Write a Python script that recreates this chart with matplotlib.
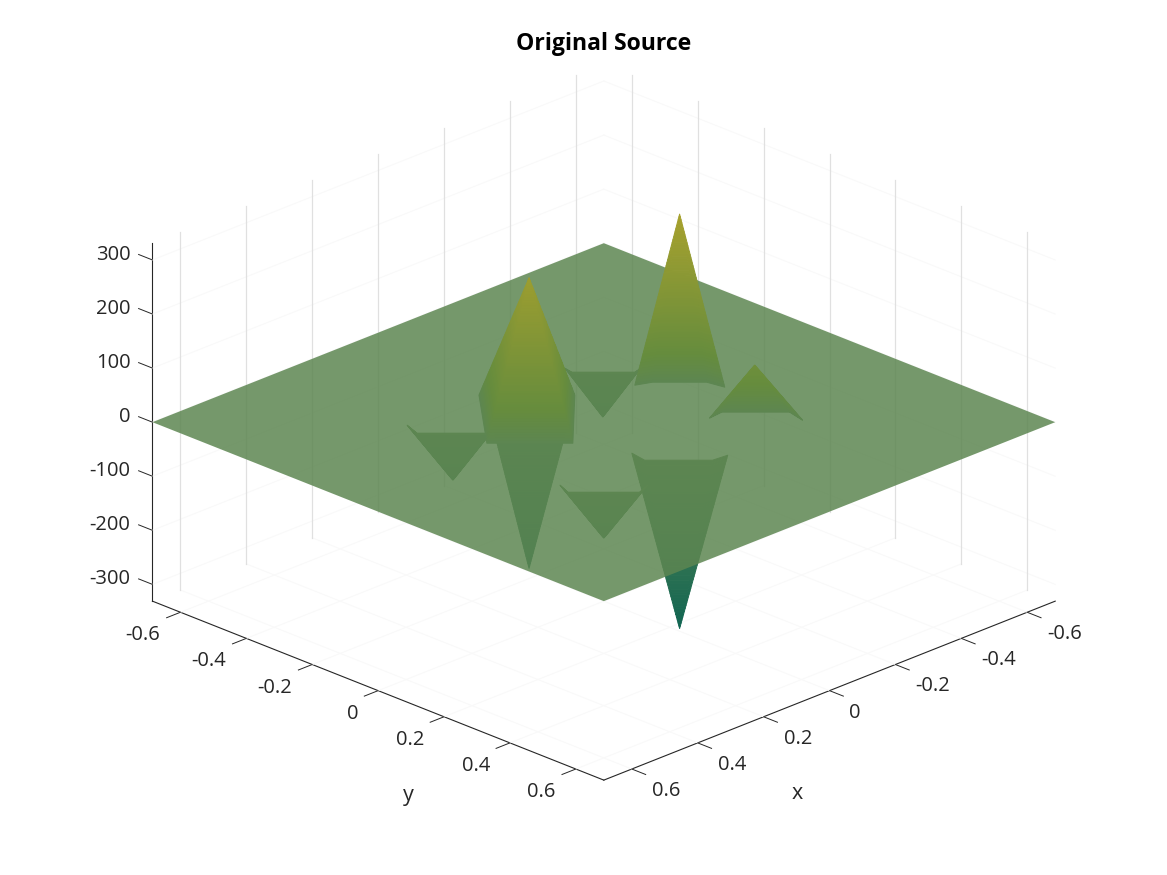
import numpy as np
import matplotlib
matplotlib.use("Agg")
import matplotlib.pyplot as plt
from matplotlib.colors import LinearSegmentedColormap
from mpl_toolkits.mplot3d import proj3d
from mpl_toolkits.mplot3d.art3d import Poly3DCollection

plt.rcParams['font.family'] = ['Open Sans', 'Noto Sans', 'DejaVu Sans']
plt.rcParams['axes.unicode_minus'] = False

lim = 0.685
zlim = 331
ticks = [-0.6, -0.4, -0.2, 0, 0.2, 0.4, 0.6]
tick_labels = ['-0.6', '-0.4', '-0.2', '0', '0.2', '0.4', '0.6']
zticks = [-300, -200, -100, 0, 100, 200, 300]
zlabels = ['-300', '-200', '-100', '0', '100', '200', '300']

# spikes: apex then the outline of the base on the plane
up_apex = [(-0.276, -0.046, 307), (0.106, -0.121, 263), (-0.2675, 0.1905, 87)]
up_base = [
    [(-0.1885, -0.0945), (-0.227, -0.079), (-0.309, 0.003), (-0.3175, 0.0495)],
    [(0.086, -0.293), (0.258, -0.097), (0.1275, 0.0335), (-0.0595, -0.1475)],
    [(-0.176, 0.145), (-0.2175, 0.1405), (-0.3205, 0.2435), (-0.309, 0.294)],
]
down_apex = [(0.106, -0.121, -274), (0.023, 0.253, -315), (-0.190, -0.193, -83),
             (0.268, 0.268, -85), (0.271, -0.187, -87)]
down_base = [
    [(0.1635, -0.1785), (0.0455, -0.0605)],
    [(0.076, 0.161), (0.0835, 0.2075), (-0.0195, 0.3105), (-0.0615, 0.3145)],
    [(-0.1475, -0.2655), (-0.143, -0.240), (-0.2385, -0.1445), (-0.2625, -0.1505)],
    [(0.3075, 0.1745), (0.3225, 0.2135), (0.2135, 0.3225), (0.1745, 0.3075)],
    [(0.310, -0.287), (0.3255, -0.2415), (0.2195, -0.1355), (0.1735, -0.1505)],
]

cmap = LinearSegmentedColormap.from_list('src', [
    (0.0, (0.05, 0.39, 0.32)),
    (0.5, (0.365, 0.525, 0.32)),
    (0.58, (0.40, 0.55, 0.24)),
    (1.0, (0.68, 0.64, 0.17)),
])


def zcolor(z):
    return cmap((z + zlim) / (2 * zlim))


def bands(apex, base, n=60):
    # horizontal strips of the faces so the colour runs with height
    base3 = np.array([(p[0], p[1], 0.0) for p in base])
    ap = np.array(apex, dtype=float)
    polys = []
    cols = []
    for i in range(n):
        t0, t1 = i / n, (i + 1) / n
        low = base3 + (ap - base3) * t0
        high = base3 + (ap - base3) * t1
        polys.append(np.vstack([low, high[::-1]]))
        cols.append(zcolor(ap[2] * (t0 + t1) / 2))
    return polys, cols


S = 875
fig = plt.figure(figsize=(11.67, 8.75), dpi=100)
ax = fig.add_axes([(592 - S / 2) / 1167, (441 - S / 2) / 875, S / 1167, S / 875],
                  projection='3d', proj_type='ortho', computed_zorder=False)
ax.view_init(elev=23.36, azim=45)
ax.set_box_aspect((638.5, 638.5, 390), zoom=1.091)
ax.set_xlim(-lim, lim)
ax.set_ylim(-lim, lim)
ax.set_zlim(-zlim, zlim)
ax.grid(False)
ax.patch.set_alpha(0)
for a in (ax.xaxis, ax.yaxis, ax.zaxis):
    a.set_pane_color((1, 1, 1, 0))
    a.pane.set_edgecolor((1, 1, 1, 0))
    a.line.set_linewidth(0.8)
    a.line.set_color('#262626')
    a._axinfo['tick']['inward_factor'] = 0.0
    a._axinfo['tick']['outward_factor'] = 0.0

ax.set_xticks(ticks)
ax.set_xticklabels([])
ax.set_yticks(ticks)
ax.set_yticklabels([])
ax.set_zticks(zticks)
ax.set_zticklabels([])
ax.tick_params(color=(0, 0, 0, 0))

ink = '#262626'
tick_len = 0.042
tick_font = 14.5


def label3d(x, y, z, s, **kw):
    # plain 2d text placed at the projected 3d point
    px, py, _ = proj3d.proj_transform(x, y, z, ax.get_proj())
    ax.annotate(s, (px, py), xycoords='data', annotation_clip=False, color=ink, va='center', **kw)


for t, lab in zip(ticks, tick_labels):
    ax.plot([lim, lim + tick_len], [t, t], [-zlim, -zlim], color=ink, lw=0.7, zorder=6, clip_on=False)
    ax.plot([t, t], [lim, lim + tick_len], [-zlim, -zlim], color=ink, lw=0.7, zorder=6, clip_on=False)
    label3d(lim + 0.0606, t, -zlim - 28, lab, ha='right', fontsize=tick_font)
    label3d(t, lim + 0.0606, -zlim - 26, lab, ha='left', fontsize=tick_font)
for z, lab in zip(zticks, zlabels):
    ax.plot([lim, lim], [-lim, -lim - tick_len], [z, z], color=ink, lw=0.7, zorder=6, clip_on=False)
    label3d(lim, -lim - 0.0667, z - 7, lab, ha='right', fontsize=tick_font)
label3d(1.0416, 0.4475, -zlim, 'y', ha='center', fontsize=15.5)
label3d(0.443, 1.031, -zlim, 'x', ha='center', fontsize=15.5)

# grid: walls at y=-lim and x=-lim, the verticals show, the rest hardly
faint = '#f9f9f9'
vert = '#e0e0e0'
for t in ticks:
    ax.plot([t, t], [-lim, -lim], [-zlim, zlim], color=vert, lw=0.9, zorder=1, clip_on=False)
    ax.plot([-lim, -lim], [t, t], [-zlim, zlim], color=vert, lw=0.9, zorder=1, clip_on=False)
    ax.plot([t, t], [-lim, lim], [-zlim, -zlim], color=faint, lw=0.8, zorder=0, clip_on=False)
    ax.plot([-lim, lim], [t, t], [-zlim, -zlim], color=faint, lw=0.8, zorder=0, clip_on=False)
for z in zticks:
    ax.plot([-lim, lim], [-lim, -lim], [z, z], color=faint, lw=0.8, zorder=0, clip_on=False)
    ax.plot([-lim, -lim], [-lim, lim], [z, z], color=faint, lw=0.8, zorder=0, clip_on=False)

for apex, base in zip(down_apex, down_base):
    polys, cols = bands(apex, base)
    pc = Poly3DCollection(polys, facecolors=cols, edgecolors=cols, linewidths=0.7,
                          zorder=2, clip_on=False)
    ax.add_collection3d(pc)

plane = Poly3DCollection([[(-lim, -lim, 0), (lim, -lim, 0), (lim, lim, 0), (-lim, lim, 0)]],
                         facecolors=[zcolor(0)], edgecolors='none', alpha=0.85,
                         zorder=3, clip_on=False)
ax.add_collection3d(plane)

for apex, base in zip(up_apex, up_base):
    polys, cols = bands(apex, base)
    pc = Poly3DCollection(polys, facecolors=cols, edgecolors=cols, linewidths=0.7,
                          zorder=4, clip_on=False)
    ax.add_collection3d(pc)

fig.text(604 / 1167, 1 - 44.5 / 875, 'Original Source', ha='center', va='center',
         fontsize=16.6, fontweight='bold', color='black')

fig.savefig('out.png', dpi=100)
